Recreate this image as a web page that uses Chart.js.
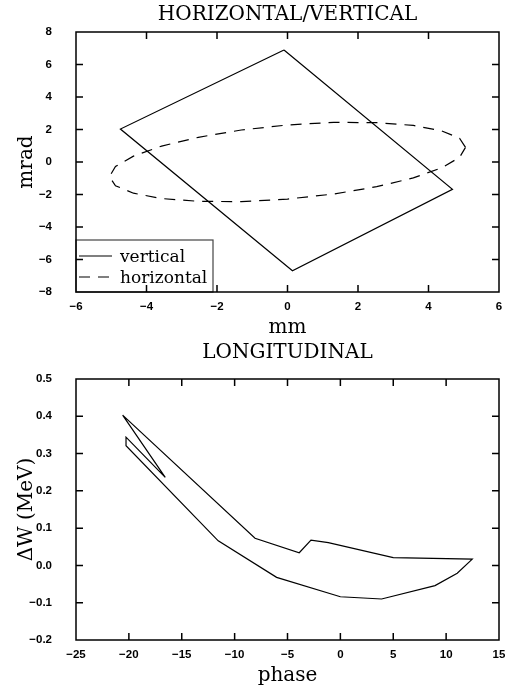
<!DOCTYPE html>
<html>
<head>
<meta charset="utf-8">
<script src="https://cdn.jsdelivr.net/npm/chart.js@4/dist/chart.umd.min.js"></script>
<style>
  html, body { margin: 0; padding: 0; background: #fff; }
  #c1 { position: absolute; left: 0; top: 0; }
  #c2 { position: absolute; left: 0; top: 343px; }
</style>
</head>
<body>
<canvas id="c1" width="505" height="343"></canvas>
<canvas id="c2" width="505" height="347"></canvas>
<script>
// ---------- DATA ----------
// Horizontal/Vertical phase space
const verticalX = [-0.10, 4.68, 0.14, -4.74, -0.10];
const verticalY = [6.89, -1.68, -6.69, 2.03, 6.89];

const horizontalX = [5.05, 4.88, 4.37, 3.57, 2.53, 1.31, 0.00, -1.31, -2.53, -3.57, -4.37, -4.88,
                     -5.05, -4.88, -4.37, -3.57, -2.53, -1.31, 0.00, 1.31, 2.53, 3.57, 4.37, 4.88, 5.05];
const horizontalY = [0.90, 1.46, 1.92, 2.25, 2.42, 2.44, 2.28, 1.97, 1.52, 0.98, 0.36, -0.28,
                     -0.90, -1.46, -1.92, -2.25, -2.42, -2.44, -2.28, -1.97, -1.52, -0.98, -0.36, 0.28, 0.90];

const hvXTicks = [-6, -4, -2, 0, 2, 4, 6];
const hvXLabels = ['−6', '−4', '−2', '0', '2', '4', '6'];
const hvYTicks = [-8, -6, -4, -2, 0, 2, 4, 6, 8];
const hvYLabels = ['−8', '−6', '−4', '−2', '0', '2', '4', '6', '8'];

// Longitudinal phase space
const phase = [-20.59, -8.07, -3.89, -2.78, -1.14, 5.00, 12.47, 11.05, 8.95, 3.90, 0.00, -6.03,
               -11.55, -20.27, -20.27, -16.56, -20.59];
const deltaW = [0.403, 0.073, 0.034, 0.068, 0.061, 0.021, 0.017, -0.021, -0.054, -0.090, -0.084, -0.032,
                0.066, 0.321, 0.344, 0.236, 0.403];

const longXTicks = [-25, -20, -15, -10, -5, 0, 5, 10, 15];
const longXLabels = ['−25', '−20', '−15', '−10', '−5', '0', '5', '10', '15'];
const longYTicks = [-0.2, -0.1, 0.0, 0.1, 0.2, 0.3, 0.4, 0.5];
const longYLabels = ['−0.2', '−0.1', '0.0', '0.1', '0.2', '0.3', '0.4', '0.5'];

// ---------- HELPERS ----------
const toPts = (xs, ys) => xs.map((x, i) => ({x: x, y: ys[i]}));
const SERIF = "'DejaVu Serif', serif";
const SANS = "'Liberation Sans', Arial, sans-serif";

const frameTicks = {
  id: 'frameTicks',
  afterDraw(chart) {
    const {ctx, chartArea: a, scales} = chart;
    const len = 7;
    ctx.save();
    ctx.strokeStyle = '#000';
    ctx.lineWidth = 1.5;
    ctx.beginPath();
    const xs = scales.x, ys = scales.y;
    xs.ticks.forEach(t => {
      if (t.value <= xs.min || t.value >= xs.max) return;
      const px = xs.getPixelForValue(t.value);
      ctx.moveTo(px, a.bottom); ctx.lineTo(px, a.bottom - len);
      ctx.moveTo(px, a.top); ctx.lineTo(px, a.top + len);
    });
    ys.ticks.forEach(t => {
      if (t.value <= ys.min + 1e-9 || t.value >= ys.max - 1e-9) return;
      const py = ys.getPixelForValue(t.value);
      ctx.moveTo(a.left, py); ctx.lineTo(a.left + len, py);
      ctx.moveTo(a.right, py); ctx.lineTo(a.right - len, py);
    });
    ctx.stroke();
    ctx.strokeRect(a.left, a.top, a.right - a.left, a.bottom - a.top);
    ctx.restore();
  }
};

const boxLegend = {
  id: 'boxLegend',
  afterDatasetsDraw(chart, args, opts) {
    if (!opts || !opts.show) return;
    const {ctx, chartArea: a} = chart;
    const w = 137, h = 52;
    const x0 = a.left, y0 = a.bottom - h;
    ctx.save();
    ctx.fillStyle = '#fff';
    ctx.fillRect(x0, y0, w, h);
    ctx.strokeStyle = '#444';
    ctx.lineWidth = 1.2;
    ctx.strokeRect(x0, y0, w, h);
    ctx.font = "17px " + SERIF;
    ctx.fillStyle = '#000';
    ctx.textBaseline = 'alphabetic';
    chart.data.datasets.forEach((ds, i) => {
      const ly = y0 + 16 + i * 21;
      ctx.strokeStyle = '#000';
      ctx.lineWidth = 1.2;
      ctx.setLineDash(ds.borderDash || []);
      ctx.beginPath();
      ctx.moveTo(x0 + 3, ly);
      ctx.lineTo(x0 + 36, ly);
      ctx.stroke();
      ctx.setLineDash([]);
      ctx.fillText(ds.label, x0 + 44, ly + 6);
    });
    ctx.restore();
  }
};

function axisX(ticks, labels, title, titlePadBottom, height) {
  return {
    type: 'linear',
    min: ticks[0], max: ticks[ticks.length - 1],
    afterBuildTicks: s => { s.ticks = ticks.map(v => ({value: v})); },
    afterFit: s => { s.height = height; s.paddingLeft = 0; s.paddingRight = 0; },
    grid: {display: false, drawTicks: false},
    border: {display: false},
    ticks: {
      padding: 8, color: '#000', maxRotation: 0, autoSkip: false,
      font: {family: SANS, size: 11.5, weight: 'bold'},
      callback: (v, i) => labels[i]
    },
    title: {display: true, text: title, color: '#000',
            font: {family: SERIF, size: 20, weight: 'normal'},
            padding: {top: 0, bottom: titlePadBottom}}
  };
}
function axisY(ticks, labels, title) {
  return {
    type: 'linear',
    min: ticks[0], max: ticks[ticks.length - 1],
    afterBuildTicks: s => { s.ticks = ticks.map(v => ({value: v})); },
    afterFit: s => { s.width = 76; s.paddingTop = 0; s.paddingBottom = 0; },
    grid: {display: false, drawTicks: false},
    border: {display: false},
    ticks: {
      padding: 24, color: '#000', autoSkip: false,
      font: {family: SANS, size: 11.5, weight: 'bold'},
      callback: (v, i) => labels[i]
    },
    title: {display: true, text: title, color: '#000',
            font: {family: SERIF, size: 20, weight: 'normal'},
            padding: {top: 15, bottom: 0}}
  };
}

const lineDs = (label, pts, dash) => ({
  label: label, data: pts, showLine: true, tension: 0,
  borderColor: '#000', borderWidth: 1.2, borderDash: dash,
  pointRadius: 0, fill: false
});

// ---------- CHART 1 ----------
new Chart(document.getElementById('c1'), {
  type: 'scatter',
  data: {
    datasets: [
      lineDs('vertical', toPts(verticalX, verticalY), []),
      lineDs('horizontal', toPts(horizontalX, horizontalY), [11, 8])
    ]
  },
  options: {
    responsive: false, animation: false,
    layout: {padding: {left: 0, right: 6, top: 0, bottom: 0}},
    plugins: {
      legend: {display: false}, tooltip: {enabled: false},
      title: {display: true, fullSize: false, text: 'HORIZONTAL/VERTICAL', color: '#000',
              font: {family: SERIF, size: 20, weight: 'normal', lineHeight: 1},
              padding: {top: 5, bottom: 7}},
      boxLegend: {show: true}
    },
    scales: {
      x: axisX(hvXTicks, hvXLabels, 'mm', 3, 51),
      y: axisY(hvYTicks, hvYLabels, 'mrad')
    }
  },
  plugins: [frameTicks, boxLegend]
});

// ---------- CHART 2 ----------
new Chart(document.getElementById('c2'), {
  type: 'scatter',
  data: {
    datasets: [
      lineDs('longitudinal', toPts(phase, deltaW), [])
    ]
  },
  options: {
    responsive: false, animation: false,
    layout: {padding: {left: 0, right: 6, top: 0, bottom: 0}},
    plugins: {
      legend: {display: false}, tooltip: {enabled: false},
      title: {display: true, fullSize: false, text: 'LONGITUDINAL', color: '#000',
              font: {family: SERIF, size: 20, weight: 'normal', lineHeight: 1},
              padding: {top: 0, bottom: 16}},
      boxLegend: {show: false}
    },
    scales: {
      x: axisX(longXTicks, longXLabels, 'phase', 2, 50),
      y: axisY(longYTicks, longYLabels, 'ΔW (MeV)')
    }
  },
  plugins: [frameTicks, boxLegend]
});
</script>
</body>
</html>
